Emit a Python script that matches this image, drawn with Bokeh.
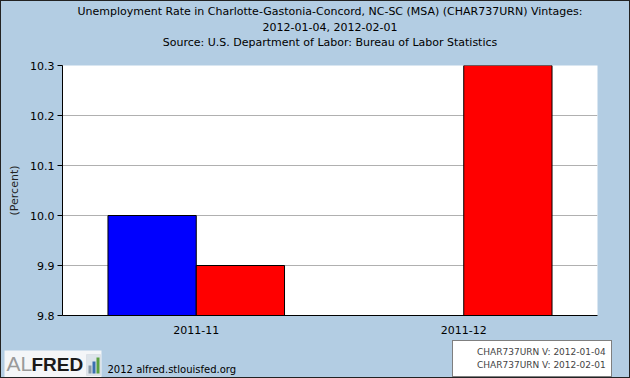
from bokeh.plotting import figure
from bokeh.models import (FactorRange, Range1d, Title, Legend, LegendItem, Label,
                          ColumnDataSource, SingleIntervalTicker, CustomJSTickFormatter,
                          BoxAnnotation, Column, Row)
from bokeh.transform import dodge
from bokeh.embed import file_html
from bokeh.resources import INLINE

categories = ["2011-11", "2011-12"]
vintage_a = [10.0, None]   # CHAR737URN V: 2012-01-04
vintage_b = [9.9, 10.3]    # CHAR737URN V: 2012-02-01
series_names = ["CHAR737URN V: 2012-01-04", "CHAR737URN V: 2012-02-01"]
series_colors = ["#0000ff", "#ff0000"]
title_lines = ["Unemployment Rate in Charlotte-Gastonia-Concord, NC-SC (MSA) (CHAR737URN) Vintages:",
               "2012-01-04, 2012-02-01",
               "Source: U.S. Department of Labor: Bureau of Labor Statistics"]
footer_text = "2012 alfred.stlouisfed.org"
y_min, y_max = 9.8, 10.3

BG = "#b3cde3"
FONT = "DejaVu Sans"
W = 628
H_MAIN = 335
H_FOOT = 41

# ---------------- main chart ----------------
p = figure(width=W, height=H_MAIN, x_range=FactorRange(*categories),
           y_range=Range1d(y_min, y_max), output_backend="svg",
           toolbar_location=None, min_border_left=61, min_border_right=32,
           min_border_top=20, min_border_bottom=10)
p.background_fill_color = "white"
p.border_fill_color = BG
p.outline_line_color = None

src_a = ColumnDataSource(dict(x=[c for c, v in zip(categories, vintage_a) if v is not None],
                              top=[v for v in vintage_a if v is not None]))
src_b = ColumnDataSource(dict(x=categories, top=vintage_b))

ra = p.vbar(x=dodge("x", -0.165, range=p.x_range), top="top", bottom=y_min, width=0.33,
            source=src_a, fill_color=series_colors[0], line_color="black", line_width=1)
rb = p.vbar(x=dodge("x", 0.165, range=p.x_range), top="top", bottom=y_min, width=0.33,
            source=src_b, fill_color=series_colors[1], line_color="black", line_width=1)

# spacer between the titles and the frame
p.add_layout(Title(text=" ", text_font=FONT, text_font_size="11px", standoff=2), "above")
n = len(title_lines)
for i, t in enumerate(reversed(title_lines)):
    p.add_layout(Title(text=t, align="center", text_font=FONT, text_font_size="11px",
                       text_font_style="normal", text_color="black",
                       standoff=2 if i == n - 1 else 0), "above")

p.yaxis.ticker = SingleIntervalTicker(interval=0.1)
p.yaxis.formatter = CustomJSTickFormatter(code="return tick.toFixed(1);")
p.yaxis.axis_label = "(Percent)"
p.yaxis.axis_label_text_font = FONT
p.yaxis.axis_label_text_font_size = "11px"
p.yaxis.axis_label_text_font_style = "normal"
p.yaxis.axis_label_text_color = "#222222"
p.yaxis.axis_label_standoff = 6
for ax in (p.xaxis, p.yaxis):
    ax.major_label_text_font = FONT
    ax.major_label_text_font_size = "11px"
    ax.major_label_text_color = "black"
    ax.axis_line_color = "black"
    ax.axis_line_width = 1
    ax.major_tick_line_color = "black"
    ax.minor_tick_line_color = None
    ax.major_tick_out = 5
    ax.major_tick_in = 0
p.yaxis.major_label_standoff = 3
p.xaxis.major_tick_line_color = None
p.xaxis.major_tick_out = 0
p.xaxis.major_label_standoff = 10

p.xgrid.grid_line_color = None
p.ygrid.grid_line_color = "#b0b0b0"

# ---------------- footer (logo + legend) ----------------
f = figure(width=W, height=H_FOOT, x_range=Range1d(0, W), y_range=Range1d(0, H_FOOT),
           output_backend="svg", toolbar_location=None, min_border=0,
           x_axis_location=None, y_axis_location=None)
f.grid.visible = False
f.outline_line_color = None
f.background_fill_color = BG
f.border_fill_color = BG

fa = f.vbar(x=[], top=[], width=1, fill_color=series_colors[0], line_color="black")
fb = f.vbar(x=[], top=[], width=1, fill_color=series_colors[1], line_color="black")
legend = Legend(items=[LegendItem(label=series_names[0], renderers=[fa]),
                       LegendItem(label=series_names[1], renderers=[fb])],
                location=(451, 0), label_text_font=FONT, label_text_font_size="9px",
                glyph_width=10, glyph_height=12, spacing=1, padding=5, margin=0,
                label_standoff=9, label_height=12,
                border_line_color="black", border_line_width=1,
                background_fill_color="white", background_fill_alpha=1)
f.add_layout(legend)

# ALFRED logo
f.add_layout(BoxAnnotation(left=3, right=100, bottom=0, top=27, left_units="screen",
                           right_units="screen", bottom_units="screen", top_units="screen",
                           fill_color="#f4f6f8", fill_alpha=1, line_color=None))
f.add_layout(Label(x=5, y=3, x_units="screen", y_units="screen", text="AL",
                   text_font="Liberation Sans", text_font_size="21px",
                   text_color="#9a9a9a"))
f.add_layout(Label(x=30, y=3, x_units="screen", y_units="screen", text="FRED",
                   text_font="Liberation Sans", text_font_size="19px",
                   text_font_style="bold", text_color="#1a1a1a"))
f.add_layout(BoxAnnotation(left=85, right=99, bottom=2, top=23, left_units="screen",
                           right_units="screen", bottom_units="screen", top_units="screen",
                           fill_color="#dde4ea", fill_alpha=1, line_color="#c0c8d0"))
for l, r, t, c in [(87, 90, 12, "#8a9aa8"), (91, 94, 16, "#3a6fb0"), (95, 98, 20, "#5aa040")]:
    f.add_layout(BoxAnnotation(left=l, right=r, bottom=4, top=t, left_units="screen",
                               right_units="screen", bottom_units="screen", top_units="screen",
                               fill_color=c, fill_alpha=1, line_color=None))
f.add_layout(Label(x=106, y=3, x_units="screen", y_units="screen", text=footer_text,
                   text_font=FONT, text_font_size="10px", text_color="black"))

layout = Column(children=[p, Row(children=[f])], spacing=0)
layout.styles = {"border": "1px solid #222222", "background-color": BG}

open("out.html", "w").write(file_html(layout, INLINE))
